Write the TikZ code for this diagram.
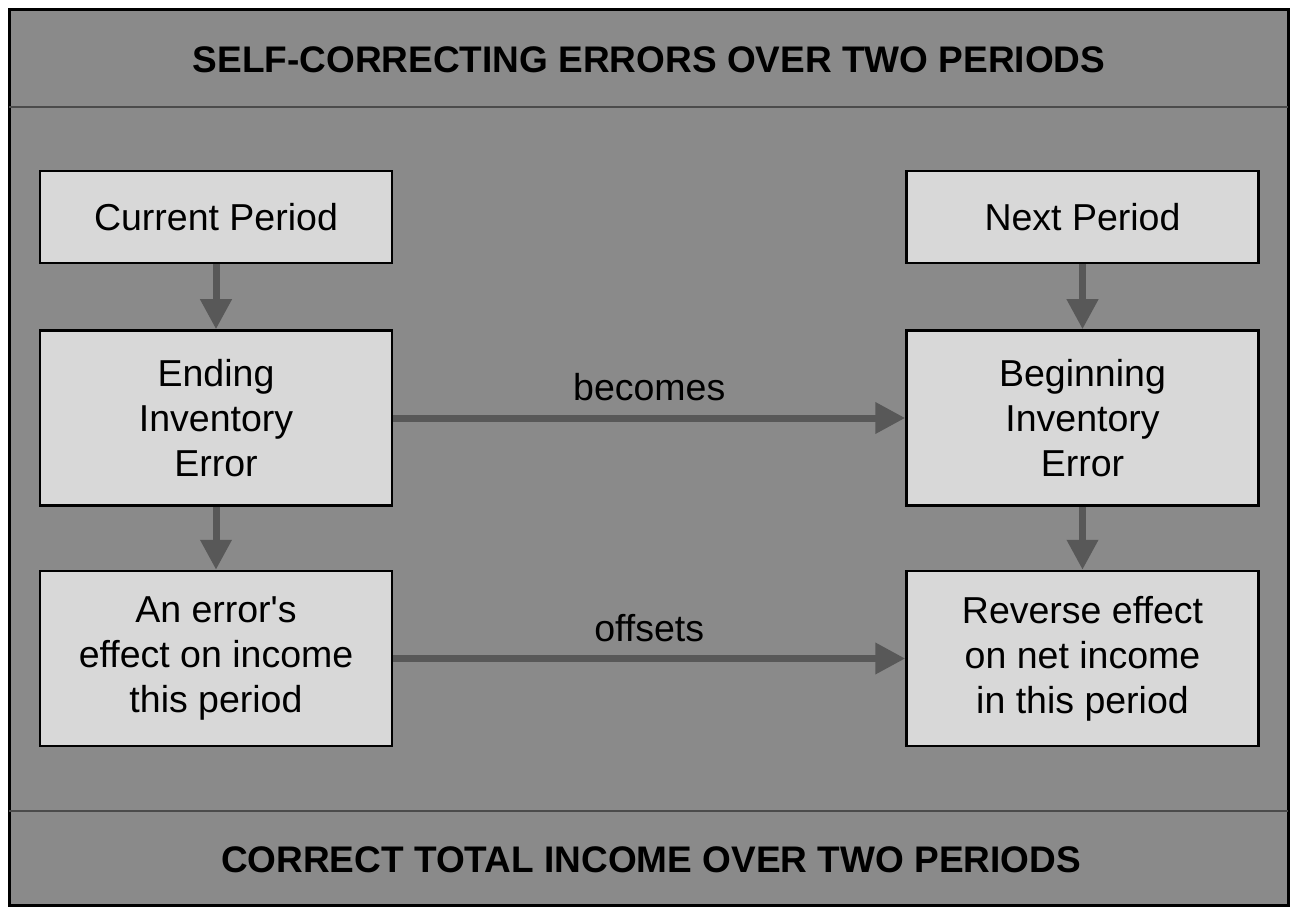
\documentclass[tikz,border=0pt]{standalone}
\usepackage{fontspec}
\setmainfont{Liberation Sans}
\newfontfamily\plainfont{Liberation Sans}
\usetikzlibrary{arrows.meta}
\definecolor{bggray}{RGB}{138,138,138}
\definecolor{boxgray}{RGB}{216,216,216}
\definecolor{arrgray}{RGB}{88,88,88}
\definecolor{sepgray}{RGB}{75,75,75}
\tikzset{
  stepbox/.style={draw=black, line width=2.5pt, fill=boxgray, minimum width=352pt,
    align=center, inner sep=0pt, font=\fontsize{37.5}{45}\selectfont},
  smallbox/.style={stepbox, minimum height=92pt},
  bigbox/.style={stepbox, minimum height=175pt},
  banner/.style={font=\fontsize{37}{42}\selectfont\bfseries},
  arr/.style={draw=arrgray, line width=7pt, -{Triangle[length=30pt,width=30pt]}},
  lbl/.style={font=\fontsize{37.5}{42}\selectfont}
}
\begin{document}
\begin{tikzpicture}[x=1pt,y=-1pt]
\useasboundingbox (0,0) rectangle (1290,909);
\fill[white] (0,0) rectangle (1290,909);
\draw[fill=bggray, line width=3pt] (9,10) rectangle (1288,905);
\draw[sepgray, line width=2.5pt] (9,107) -- (1288,107);
\draw[sepgray, line width=2.5pt] (9,811) -- (1288,811);
\node[banner] (title) at (649,60) {SELF-CORRECTING ERRORS OVER TWO PERIODS};
\node[banner] (foot) at (651,860) {CORRECT TOTAL INCOME OVER TWO PERIODS};

\node[smallbox] (cur) at (216,217) {Current Period};
\node[bigbox] (end) at (216,418) {Ending\\Inventory\\Error};
\node[bigbox] (eff) at (216,658.5) {An error{\plainfont'}s\\effect on income\\this period};
\node[smallbox] (nxt) at (1082.5,217) {Next Period};
\node[bigbox] (beg) at (1082.5,418) {Beginning\\Inventory\\Error};
\node[bigbox] (rev) at (1082.5,658.5) {Reverse effect\\on net income\\in this period};

\draw[arr] (cur) -- (end);
\draw[arr] (end) -- (eff);
\draw[arr] (nxt) -- (beg);
\draw[arr] (beg) -- (rev);
\draw[arr] (end) -- node[lbl, above=10pt] (becomes) {becomes} (beg);
\draw[arr] (eff) -- node[lbl, above=10pt] (offsets) {offsets} (rev);
\end{tikzpicture}
\end{document}
